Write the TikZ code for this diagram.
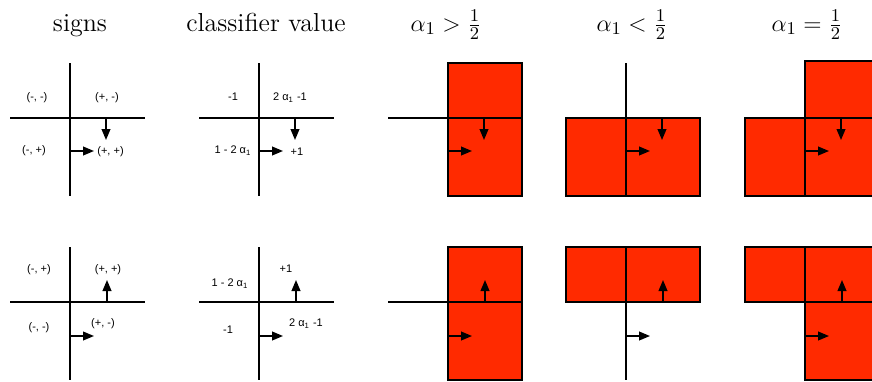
\documentclass[tikz,border=0pt]{standalone}
\usepackage{fontspec}
\newfontfamily\lblfont{Liberation Sans}
\usepackage{xcolor}
\usepackage{tikz}
\usetikzlibrary{arrows.meta}
\definecolor{redbox}{HTML}{FF2A00}
\tikzset{
  ax/.style={line width=0.75pt},
  rb/.style={fill=redbox,draw=black,line width=0.8pt},
  ar/.style={-{Triangle[length=5.5pt,width=4.4pt]},line width=0.75pt},
  lbl/.style={font=\lblfont\fontsize{5.5}{6}\selectfont,inner sep=0pt,anchor=base},
  ttl/.style={font=\fontsize{13}{15}\selectfont,inner sep=0pt,anchor=base}
}
\newcommand{\aone}{α\textsubscript{1}}

\begin{document}
\begin{tikzpicture}[x=0.5pt,y=-0.5pt]
\clip (0,0) rectangle (872,381);
% panel origins
\foreach \n/\xx/\yy in {s1/70/118,c1/259/118,g1/448/118,l1/626/118,e1/805/118,
                        s2/70/302,c2/259/302,g2/448/302,l2/626/302,e2/805/302}
  {\coordinate (\n) at (\xx,\yy);}
% red regions
\draw[rb] (g1) ++(0,-55) rectangle ++(74,133);
\draw[rb] (l1) ++(-60,0) rectangle ++(134,78);
\draw[rb] (e1) ++(0,-57) rectangle ++(74,57);
\draw[rb] (e1) ++(-60,0) rectangle ++(134,78);
\draw[rb] (g2) ++(0,-55) rectangle ++(74,133);
\draw[rb] (l2) ++(-60,-55) rectangle ++(134,55);
\draw[rb] (e2) ++(-60,-55) rectangle ++(134,55);
\draw[rb] (e2) rectangle ++(74,78);
% axes
\foreach \n in {s1,c1,g1,l1,e1,s2,c2,g2,l2,e2}{
  \draw[ax] (\n) ++(-60,0) -- ++(135,0);
  \draw[ax] (\n) ++(0,-55) -- ++(0,133);
}
% arrows
\foreach \n in {s1,c1,g1,l1,e1}{
  \draw[ar] (\n) ++(36,0) -- ++(0,22);
  \draw[ar] (\n) ++(0,33) -- ++(24,0);
}
\foreach \n in {s2,c2,g2,l2,e2}{
  \draw[ar] (\n) ++(37,0) -- ++(0,-22);
  \draw[ar] (\n) ++(0,34) -- ++(24,0);
}
% titles
\node[ttl] (tsg) at (80,31) {signs};
\node[ttl] (tcv) at (266,31) {classifier value};
\node[ttl] (tgt) at (446,31) {$\alpha_1>\frac{1}{2}$};
\node[ttl] (tlt) at (632,31) {$\alpha_1<\frac{1}{2}$};
\node[ttl] (teq) at (807,31) {$\alpha_1=\frac{1}{2}$};
% signs
\node[lbl] (smm) at (37,100.5) {(-, -)};
\node[lbl] (spm) at (107,100.5) {(+, -)};
\node[lbl] (smp) at (34,153.5) {(-, +)};
\node[lbl,anchor=base west] (spp) at (97,154.5) {(+, +)};
\node[lbl] (bmp) at (39,272.5) {(-, +)};
\node[lbl] (bpp) at (108,272.5) {(+, +)};
\node[lbl] (bmm) at (39,330.5) {(-, -)};
\node[lbl] (bpm) at (103,326.5) {(+, -)};
% classifier values
\node[lbl] (cmm) at (233,100.5) {-1};
\node[lbl] (cpm) at (290,100.5) {2 \aone\ -1};
\node[lbl] (cmp) at (233,153.5) {1 - 2 \aone};
\node[lbl] (cpp) at (297,155.5) {+1};
\node[lbl] (dpp) at (286,272.5) {+1};
\node[lbl] (dmp) at (230,286.5) {1 - 2 \aone};
\node[lbl] (dmm) at (228,333.5) {-1};
\node[lbl] (dpm) at (306,326.5) {2 \aone\ -1};
\end{tikzpicture}
\end{document}
